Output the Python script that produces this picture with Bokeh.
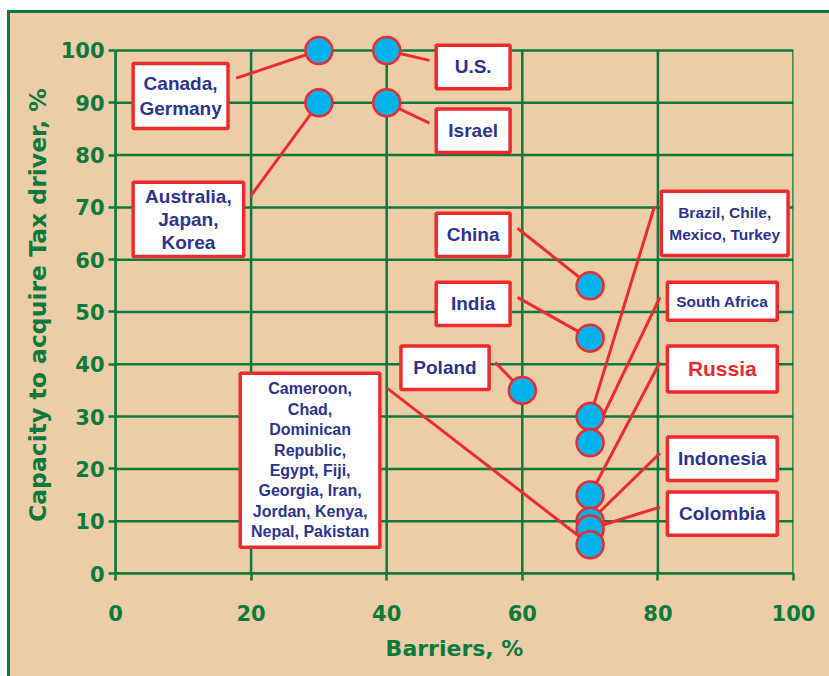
from bokeh.plotting import figure
from bokeh.models import FixedTicker, Range1d, ColumnDataSource
from bokeh.core.properties import value
from bokeh.embed import file_html
from bokeh.resources import INLINE

# Country groups: barriers (%) vs. capacity to acquire the Tax driver (%)
groups = [
    "Canada,\nGermany",
    "U.S.",
    "Australia,\nJapan,\nKorea",
    "Israel",
    "China",
    "India",
    "Poland",
    "Brazil, Chile,\nMexico, Turkey",
    "South Africa",
    "Russia",
    "Indonesia",
    "Colombia",
    "Cameroon,\nChad,\nDominican\nRepublic,\nEgypt, Fiji,\nGeorgia, Iran,\nJordan, Kenya,\nNepal, Pakistan",
]
barriers = [30, 40, 30, 40, 70, 70, 60, 70, 70, 70, 70, 70, 70]
capacity = [100, 100, 90, 90, 55, 45, 35, 30, 25, 15, 10, 8.5, 5.5]

x_ticks = [0, 20, 40, 60, 80, 100]
y_ticks = [0, 10, 20, 30, 40, 50, 60, 70, 80, 90, 100]

# Callout layout (data units): box left, right, top, bottom and leader anchor
box_left = [2.6, 47.3, 2.6, 47.3, 47.3, 47.3, 42.1, 80.5, 81.4, 81.4, 81.4, 81.4, 18.4]
box_right = [16.6, 58.2, 18.9, 58.2, 58.2, 58.2, 55.1, 99.2, 97.6, 97.6, 97.6, 97.6, 39.0]
box_top = [97.5, 101.0, 74.8, 88.8, 68.9, 55.7, 43.5, 73.1, 55.7, 43.5, 26.1, 15.6, 38.3]
box_bottom = [85.1, 92.7, 60.6, 80.5, 60.6, 47.4, 35.2, 60.8, 48.4, 34.7, 17.8, 7.3, 5.0]
anchor_x = [17.8, 46.3, 19.9, 46.3, 59.3, 59.3, 56.0, 79.5, 80.3, 80.3, 80.3, 80.3, 40.1]
anchor_y = [94.7, 98.1, 72.1, 86.1, 66.0, 52.8, 40.4, 70.2, 52.8, 40.4, 23.0, 12.7, 35.4]
font_sizes = ["19px", "19px", "19px", "19px", "19px", "19px", "19px",
              "15.5px", "15.5px", "21px", "19px", "19px", "16px"]
line_heights = [1.2, 1.2, 1.1, 1.2, 1.2, 1.2, 1.2, 1.28, 1.2, 1.2, 1.2, 1.2, 1.2]

NAVY = "#2b3591"
RED = "#ec2a2f"
GREEN = "#0b7a3c"
BEIGE = "#edcda7"
CYAN = "#00b3ec"

text_colors = [RED if g == "Russia" else NAVY for g in groups]

pts = ColumnDataSource(dict(x=barriers, y=capacity))
leaders = ColumnDataSource(dict(x0=anchor_x, y0=anchor_y, x1=barriers, y1=capacity))
boxes = ColumnDataSource(dict(
    left=box_left, right=box_right, top=box_top, bottom=box_bottom,
    cx=[(a + b) / 2 for a, b in zip(box_left, box_right)],
    cy=[(a + b) / 2 for a, b in zip(box_top, box_bottom)],
    text=groups, size=font_sizes, color=text_colors, lh=line_heights,
))

p = figure(
    width=819, height=663,
    x_range=Range1d(0, 100), y_range=Range1d(0, 104.2),
    output_backend="svg", toolbar_location=None,
    min_border_left=105, min_border_right=36,
    min_border_top=15, min_border_bottom=103,
    background_fill_color=BEIGE, border_fill_color=BEIGE,
    outline_line_color=None,
)
# panel sits inset on the page with a green rule along its top and left edges
p.margin = (13, 0, 0, 10)
p.styles = {"outline": f"3px solid {GREEN}", "background-color": BEIGE}

p.xgrid.visible = False
p.ygrid.visible = False

# grid drawn between the axis bounds only
p.segment(x0=x_ticks, y0=[0] * len(x_ticks), x1=x_ticks, y1=[100] * len(x_ticks),
          line_color=GREEN, line_width=2.5)
p.segment(x0=[0] * len(y_ticks), y0=y_ticks, x1=[100] * len(y_ticks), y1=y_ticks,
          line_color=GREEN, line_width=2.5)

# leader lines from each callout to its point
p.segment(x0="x0", y0="y0", x1="x1", y1="y1", source=leaders,
          line_color=RED, line_width=3)

p.scatter("x", "y", source=pts, size=27, fill_color=CYAN,
          line_color=RED, line_width=2.5)

p.quad(left="left", right="right", top="top", bottom="bottom", source=boxes,
       fill_color="white", line_color=RED, line_width=3.5)
p.text(x="cx", y="cy", text="text", source=boxes,
       text_font=value("Liberation Sans"), text_font_style="bold",
       text_font_size="size", text_color="color", text_line_height="lh",
       text_align="center", text_baseline="middle")

for ax in (p.xaxis[0], p.yaxis[0]):
    ax.bounds = (0, 100)
    ax.axis_line_color = GREEN
    ax.axis_line_width = 2.5
    ax.major_tick_line_color = GREEN
    ax.major_tick_line_width = 2.5
    ax.major_tick_in = 0
    ax.major_tick_out = 7
    ax.minor_tick_line_color = None
    ax.major_label_text_font = "DejaVu Sans"
    ax.major_label_text_font_style = "bold"
    ax.major_label_text_font_size = "21px"
    ax.major_label_text_color = GREEN
    ax.axis_label_text_font = "DejaVu Sans"
    ax.axis_label_text_font_style = "bold"
    ax.axis_label_text_color = GREEN

p.xaxis.ticker = FixedTicker(ticks=x_ticks)
p.yaxis.ticker = FixedTicker(ticks=y_ticks)
p.xaxis.axis_label = "Barriers, %"
p.yaxis.axis_label = "Capacity to acquire Tax  driver, %"
p.xaxis.axis_label_text_font_size = "22px"
p.yaxis.axis_label_text_font_size = "23.5px"
p.xaxis.major_label_standoff = 24
p.xaxis.axis_label_standoff = 12
p.yaxis.major_label_standoff = 4
p.yaxis.axis_label_standoff = 6

open("out.html", "w").write(file_html(p, INLINE))
